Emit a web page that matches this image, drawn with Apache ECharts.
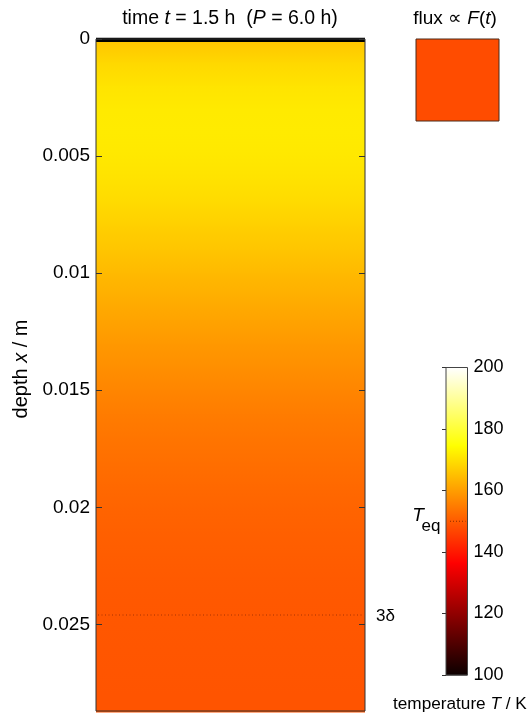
<!DOCTYPE html>
<html>
<head>
<meta charset="utf-8">
<script src="https://cdn.jsdelivr.net/npm/echarts@6/dist/echarts.min.js"></script>
<style>html,body{margin:0;padding:0;background:#fff}#c{width:528px;height:718px}</style>
</head>
<body>
<div id="c"></div>
<script>
// depth (m) and temperature (K)
const depth = [0,0.001,0.002,0.003,0.004,0.005,0.006,0.007,0.008,0.009,0.010,0.011,0.012,0.013,0.014,0.015,0.016,0.017,0.018,0.019,0.020,0.021,0.022,0.023,0.024,0.025,0.026,0.027,0.028,0.0287];
const temperature = [165.8,168.8,170.6,171.5,171.6,171.2,170.2,169.0,167.5,165.9,164.2,162.5,160.8,159.2,157.8,156.4,155.1,154.0,153.1,152.2,151.5,150.9,150.4,150.0,149.7,149.5,149.3,149.2,149.1,149.1];
const depthTicks = [0,0.005,0.01,0.015,0.02,0.025];
const depthTickLabels = ['0','0.005','0.01','0.015','0.02','0.025'];
const depthMax = 0.0287;
const threeDelta = 0.0246;
const tEq = 150;
const fluxT = 147.8;
const cbarStops = [100,136.5,174.6,200];
const cbarMin = 100, cbarMax = 200, cbarStep = 20;

const FONT = '"Liberation Sans", Arial, sans-serif';
function clamp(v){return Math.max(0,Math.min(1,v));}
function hot(T){
  const t=(T-cbarMin)/(cbarMax-cbarMin);
  const r=clamp(0.0416+(1-0.0416)*t/0.365), g=clamp((t-0.365)/0.381), b=clamp((t-0.746)/0.254);
  return 'rgb('+Math.round(r*255)+','+Math.round(g*255)+','+Math.round(b*255)+')';
}
const segs=[];
for(let i=0;i<depth.length-1;i++) segs.push([depth[i],depth[i+1],temperature[i],temperature[i+1]]);
const cbarSegs=[];
for(let i=0;i<cbarStops.length-1;i++) cbarSegs.push([cbarStops[i],cbarStops[i+1]]);

function rt(size){return {n:{fontFamily:FONT,fontSize:size,fill:'#000'},i:{fontFamily:FONT,fontSize:size,fontStyle:'italic',fill:'#000'}};}

const chart = echarts.init(document.getElementById('c'), null, {renderer:'canvas'});
const option = {
  animation:false,
  backgroundColor:'#fff',
  grid:[
    {left:96,top:39,width:269,height:672,show:true,borderColor:'#333',borderWidth:1,backgroundColor:'transparent',z:10},
    {left:446,top:367.5,width:21.5,height:307.5,show:true,borderColor:'#444',borderWidth:1,backgroundColor:'transparent',z:10},
    {left:416,top:39,width:83,height:82,show:true,borderColor:'#4a2a1a',borderWidth:1,backgroundColor:'transparent',z:10}
  ],
  xAxis:[
    {gridIndex:0,type:'value',min:0,max:1,show:false},
    {gridIndex:1,type:'value',min:0,max:1,show:false},
    {gridIndex:2,type:'value',min:0,max:1,show:false}
  ],
  yAxis:[
    {gridIndex:0,type:'value',min:0,max:depthMax,inverse:true,position:'left',z:5,
     splitLine:{show:false},axisLine:{show:false},
     axisTick:{show:true,inside:true,length:6,lineStyle:{color:'#333'},customValues:depthTicks},
     axisLabel:{show:true,margin:6,fontFamily:FONT,fontSize:19,color:'#000',customValues:depthTicks,
       formatter:function(v){const i=depthTicks.findIndex(d=>Math.abs(d-v)<1e-9);return i>=0?depthTickLabels[i]:'';}}},
    {gridIndex:0,type:'value',min:0,max:depthMax,inverse:true,position:'right',z:5,
     splitLine:{show:false},axisLine:{show:false},axisLabel:{show:false},
     axisTick:{show:true,inside:true,length:6,lineStyle:{color:'#333'},customValues:depthTicks}},
    {gridIndex:1,type:'value',min:cbarMin,max:cbarMax,interval:cbarStep,position:'right',z:5,
     splitLine:{show:false},axisLine:{show:false},
     axisTick:{show:true,inside:true,length:4,lineStyle:{color:'#333'}},
     axisLabel:{show:true,margin:6,fontFamily:FONT,fontSize:18,color:'#000'}},
    {gridIndex:2,type:'value',min:0,max:1,show:false}
  ],
  series:[
    {type:'custom',xAxisIndex:0,yAxisIndex:0,z:1,data:segs,
     renderItem:function(p,api){
       const a=api.coord([0,api.value(0)]), b=api.coord([1,api.value(1)]);
       return {type:'rect',shape:{x:a[0],y:a[1],width:b[0]-a[0],height:b[1]-a[1]+1.5},
         style:{fill:new echarts.graphic.LinearGradient(0,0,0,1,[{offset:0,color:hot(api.value(2))},{offset:1,color:hot(api.value(3))}])}};
     }},
    {type:'custom',xAxisIndex:0,yAxisIndex:0,z:3,data:[[0]],
     renderItem:function(p,api){
       const a=api.coord([0,api.value(0)]), b=api.coord([1,api.value(0)]);
       return {type:'rect',shape:{x:a[0],y:a[1]-1.3,width:b[0]-a[0],height:4.3},style:{fill:'#000'}};
     }},
    {type:'custom',xAxisIndex:0,yAxisIndex:0,z:3,data:[[threeDelta]],
     renderItem:function(p,api){
       const a=api.coord([0,api.value(0)]), b=api.coord([1,api.value(0)]);
       return {type:'group',children:[
         {type:'line',shape:{x1:a[0]+2,y1:a[1],x2:b[0]-2,y2:b[1]},style:{stroke:'#a83000',lineWidth:1,lineDash:[1,2.5]}},
         {type:'text',style:{text:'3δ',x:b[0]+11,y:b[1]+1,fontFamily:FONT,fontSize:17,fill:'#000',verticalAlign:'middle',align:'left'}}
       ]};
     }},
    {type:'custom',xAxisIndex:1,yAxisIndex:2,z:1,data:cbarSegs,
     renderItem:function(p,api){
       const a=api.coord([0,api.value(1)]), b=api.coord([1,api.value(0)]);
       return {type:'rect',shape:{x:a[0],y:a[1],width:b[0]-a[0],height:b[1]-a[1]+0.5},
         style:{fill:new echarts.graphic.LinearGradient(0,0,0,1,[{offset:0,color:hot(api.value(1))},{offset:1,color:hot(api.value(0))}])}};
     }},
    {type:'custom',xAxisIndex:1,yAxisIndex:2,z:3,data:[[tEq]],
     renderItem:function(p,api){
       const a=api.coord([0,api.value(0)]), b=api.coord([1,api.value(0)]);
       return {type:'group',children:[
         {type:'line',shape:{x1:a[0]+4,y1:a[1],x2:b[0]-2,y2:b[1]},style:{stroke:'#8a2a00',lineWidth:1,lineDash:[1,2]}},
         {type:'text',style:{text:'T',x:a[0]-28,y:a[1]-6,fontFamily:FONT,fontSize:19,fontStyle:'italic',fill:'#000',verticalAlign:'middle',align:'center'}},
         {type:'text',style:{text:'eq',x:a[0]-15,y:a[1]+5,fontFamily:FONT,fontSize:17,fill:'#000',verticalAlign:'middle',align:'center'}}
       ]};
     }},
    {type:'custom',xAxisIndex:2,yAxisIndex:3,z:1,data:[[fluxT]],
     renderItem:function(p,api){
       const a=api.coord([0,1]), b=api.coord([1,0]);
       return {type:'rect',shape:{x:a[0],y:a[1],width:b[0]-a[0],height:b[1]-a[1]},style:{fill:hot(api.value(0))}};
     }}
  ],
  graphic:[
    {type:'text',x:230,y:19,style:{text:'{n|time }{i|t}{n| = 1.5 h  (}{i|P}{n| = 6.0 h)}',align:'center',verticalAlign:'middle',rich:rt(19.5)}},
    {type:'text',x:455,y:19,style:{text:'{n|flux ∝ }{i|F}{n|(}{i|t}{n|)}',align:'center',verticalAlign:'middle',rich:rt(19)}},
    {type:'text',x:230.5,y:377,style:{text:'regolith',fontFamily:FONT,fontSize:19,fill:'#000',align:'center',verticalAlign:'middle'}},
    {type:'text',x:21.5,y:369,rotation:Math.PI/2,style:{text:'{n|depth }{i|x}{n| / m}',align:'center',verticalAlign:'middle',rich:rt(20)}},
    {type:'text',x:393,y:704,style:{text:'{n|temperature }{i|T}{n| / K}',align:'left',verticalAlign:'middle',rich:rt(17.2)}}
  ]
};
chart.setOption(option);
</script>
</body>
</html>
